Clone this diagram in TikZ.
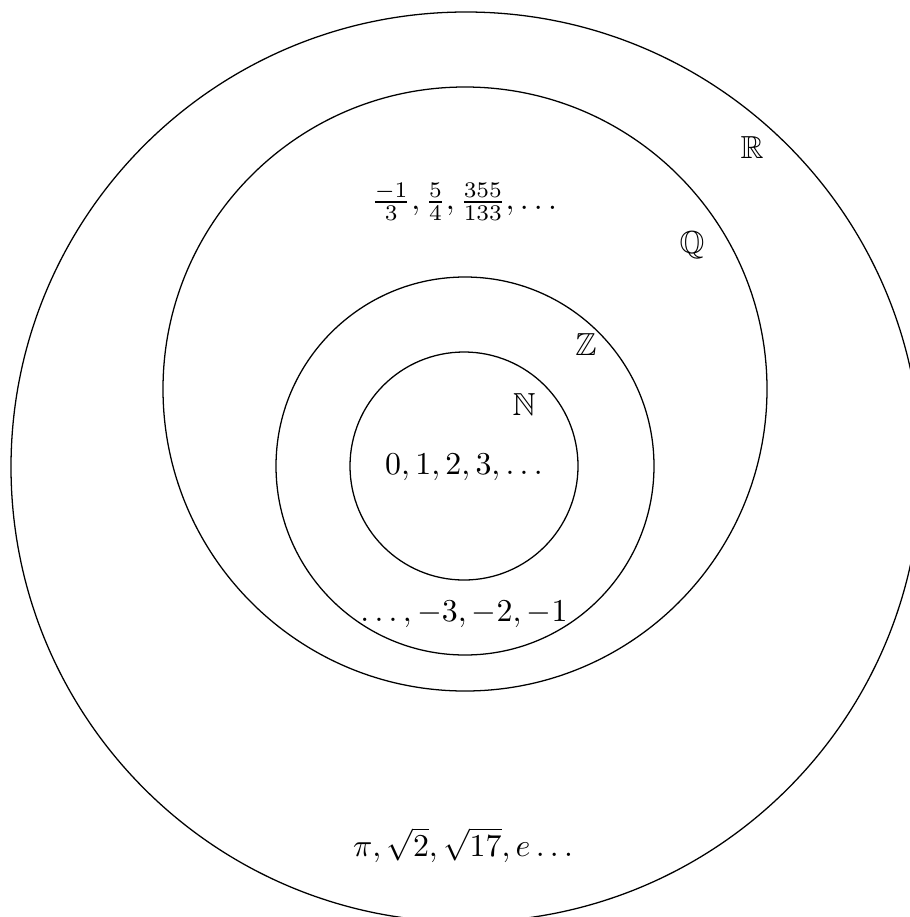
\documentclass[tikz,border=0pt]{standalone}
\usepackage{amsmath,amssymb}
\begin{document}
\begin{tikzpicture}[x=0.011038cm,y=-0.011038cm,
  setline/.style={draw=black,line width=0.4pt},
  lbl/.style={inner sep=0pt,anchor=center}]
\def\u{0.011038cm}
\useasboundingbox (0,0) rectangle (909,917);
\coordinate (cR) at (466,467);
\coordinate (cQ) at (465,389);
\coordinate (cZ) at (465,466);
\coordinate (cN) at (464,466);
\draw[setline] (cR) circle[radius=455*\u];
\draw[setline] (cQ) circle[radius=302*\u];
\draw[setline] (cZ) circle[radius=189*\u];
\draw[setline] (cN) circle[radius=114*\u];
\node[lbl] (lR) at (752,148) {$\mathbb{R}$};
\node[lbl] (lQ) at (692,245) {$\mathbb{Q}$};
\node[lbl] (lZ) at (586,345) {$\mathbb{Z}$};
\node[lbl] (lN) at (524,405) {$\mathbb{N}$};
\node[lbl] (tN) at (464,467) {$0,1,2,3,\ldots$};
\node[lbl] (tZ) at (464,614) {$\ldots,-3,-2,-1$};
\node[lbl] (tQ) at (464,202) {$\frac{-1}{3},\frac{5}{4},\frac{355}{133},\ldots$};
\node[lbl] (tR) at (463,845) {$\pi,\sqrt{2},\sqrt{17},e\ldots$};
\end{tikzpicture}
\end{document}
